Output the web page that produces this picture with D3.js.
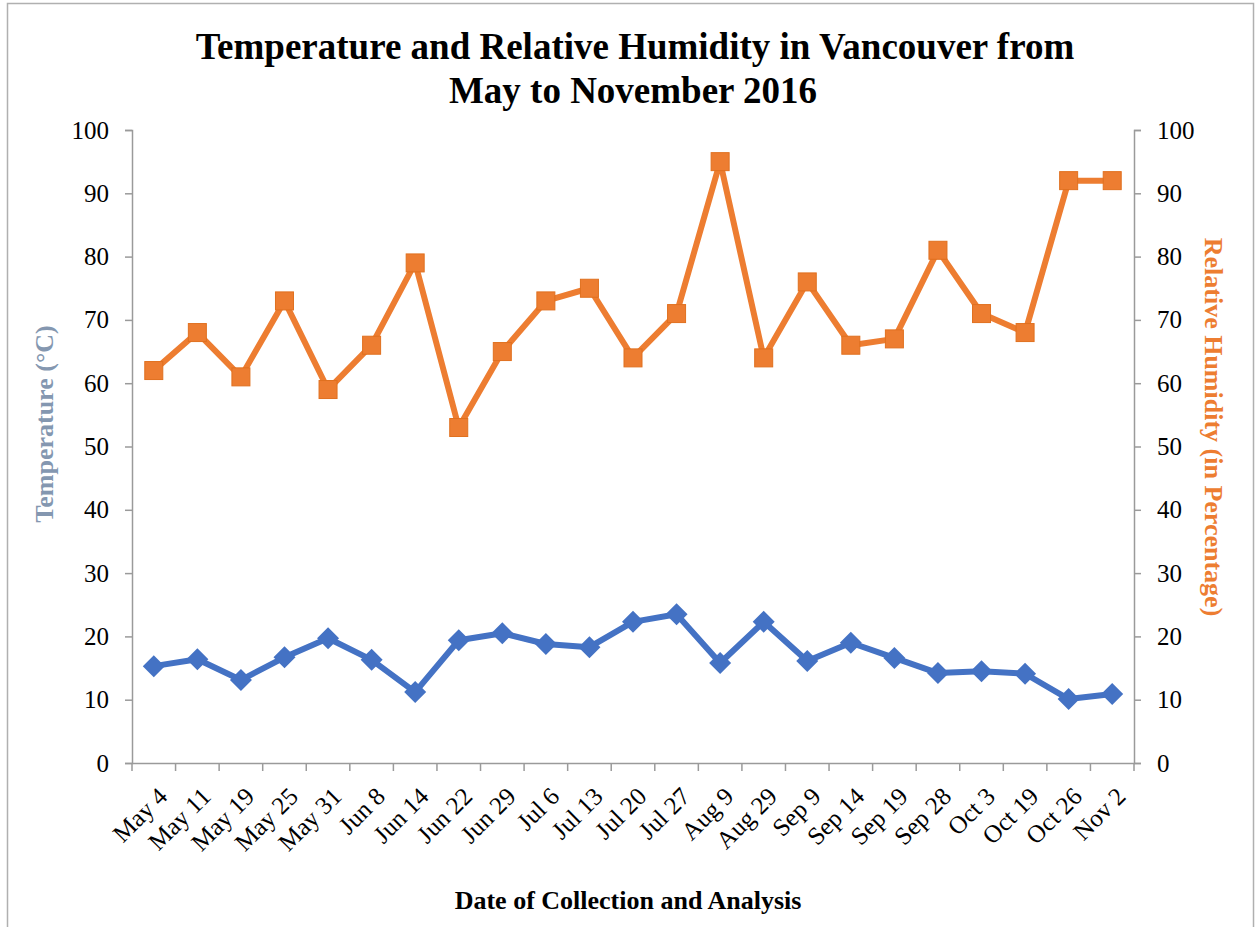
<!DOCTYPE html>
<html>
<head>
<meta charset="utf-8">
<script src="https://cdn.jsdelivr.net/npm/d3@7"></script>
<style>
  body { margin: 0; background: #fff; }
  svg text { font-family: "Liberation Serif", "Times New Roman", serif; }
</style>
</head>
<body>
<div id="wrapper"></div>
<script>
// data
const dates = ["May 4","May 11","May 19","May 25","May 31","Jun 8","Jun 14","Jun 22","Jun 29",
  "Jul 6","Jul 13","Jul 20","Jul 27","Aug 9","Aug 29","Sep 9","Sep 14","Sep 19","Sep 28",
  "Oct 3","Oct 19","Oct 26","Nov 2"];
const temperature = [15.3,16.4,13.1,16.7,19.7,16.3,11.2,19.4,20.5,18.8,18.3,22.3,23.5,15.8,22.3,
  16.1,19.0,16.6,14.2,14.5,14.1,10.1,10.9];
const humidity = [62,68,61,73,59,66,79,53,65,73,75,64,71,95,64,76,66,67,81,71,68,92,92];
const yTicks = [0,10,20,30,40,50,60,70,80,90,100];

const width = 1258, height = 927;
const plotL = 132, plotR = 1134, plotT = 130, plotB = 763;

const svg = d3.select("#wrapper").append("svg")
  .attr("width", width).attr("height", height);

// frame
svg.append("rect")
  .attr("x", 7.5).attr("y", 3.5)
  .attr("width", 1246).attr("height", 940)
  .attr("fill", "none").attr("stroke", "#b0b0b0").attr("stroke-width", 1.5);

const x = d3.scaleBand().domain(dates).range([plotL, plotR]);
const yL = d3.scaleLinear().domain([0, 100]).range([plotB, plotT]);
const yR = d3.scaleLinear().domain([0, 100]).range([plotB, plotT]);

// axes
const axisColor = "#9a9a9a";
const gx = svg.append("g").attr("transform", `translate(0,${plotB})`)
  .call(d3.axisBottom(x).tickSize(0).tickFormat(""));
gx.select(".domain").attr("stroke", axisColor).attr("stroke-width", 1.5);
// category boundary ticks
const bounds = dates.map(d => x(d)).concat([plotR]);
gx.selectAll(".bt").data(bounds).enter().append("line")
  .attr("x1", d => d).attr("x2", d => d).attr("y1", 0).attr("y2", 8)
  .attr("stroke", axisColor).attr("stroke-width", 1.5);
gx.selectAll(".lbl").data(dates).enter().append("text")
  .attr("transform", d => `translate(${x(d) + x.bandwidth() / 2 + 15},${35}) rotate(-45)`)
  .attr("text-anchor", "end")
  .attr("font-size", 25)
  .attr("fill", "#000")
  .text(d => d);

const gl = svg.append("g").attr("transform", `translate(${plotL},0)`)
  .call(d3.axisLeft(yL).tickValues(yTicks).tickSize(7).tickPadding(16));
gl.select(".domain").attr("stroke", axisColor).attr("stroke-width", 1.5);
gl.selectAll(".tick line").attr("stroke", axisColor).attr("stroke-width", 1.5);
gl.selectAll(".tick text").attr("font-size", 25).attr("fill", "#000")
  .style("font-family", "'Liberation Serif', serif");

const gr = svg.append("g").attr("transform", `translate(${plotR},0)`)
  .call(d3.axisRight(yR).tickValues(yTicks).tickSize(7).tickPadding(16));
gr.select(".domain").attr("stroke", axisColor).attr("stroke-width", 1.5);
gr.selectAll(".tick line").attr("stroke", axisColor).attr("stroke-width", 1.5);
gr.selectAll(".tick text").attr("font-size", 25).attr("fill", "#000")
  .style("font-family", "'Liberation Serif', serif");

// series
const cx = d => x(d) + x.bandwidth() / 2;
const blue = "#4472c4", orange = "#ed7d31";

const lineT = d3.line().x((d, i) => cx(dates[i])).y(d => yL(d));
const lineH = d3.line().x((d, i) => cx(dates[i])).y(d => yR(d));

svg.append("path").datum(humidity).attr("d", lineH)
  .attr("fill", "none").attr("stroke", orange).attr("stroke-width", 6)
  .attr("stroke-linejoin", "round");
svg.selectAll(".hm").data(humidity).enter().append("rect")
  .attr("x", (d, i) => cx(dates[i]) - 9).attr("y", d => yR(d) - 9)
  .attr("width", 18).attr("height", 18)
  .attr("fill", orange).attr("stroke", "#e0701f").attr("stroke-width", 1);

svg.append("path").datum(temperature).attr("d", lineT)
  .attr("fill", "none").attr("stroke", blue).attr("stroke-width", 6)
  .attr("stroke-linejoin", "round");
svg.selectAll(".tm").data(temperature).enter().append("path")
  .attr("transform", (d, i) => `translate(${cx(dates[i])},${yL(d)})`)
  .attr("d", "M0,-11L11,0L0,11L-11,0Z")
  .attr("fill", blue);

// titles
svg.append("text").attr("x", 635).attr("y", 59).attr("text-anchor", "middle")
  .attr("font-size", 37).attr("font-weight", "bold").text("Temperature and Relative Humidity in Vancouver from");
svg.append("text").attr("x", 633).attr("y", 103).attr("text-anchor", "middle")
  .attr("font-size", 37).attr("font-weight", "bold").text("May to November 2016");

svg.append("text").attr("x", 628).attr("y", 909).attr("text-anchor", "middle")
  .attr("font-size", 26).attr("font-weight", "bold").text("Date of Collection and Analysis");

svg.append("text")
  .attr("transform", `translate(53,424) rotate(-90)`)
  .attr("text-anchor", "middle").attr("font-size", 26).attr("font-weight", "bold")
  .attr("fill", "#8497b0").text("Temperature (°C)");

svg.append("text")
  .attr("transform", `translate(1205,427) rotate(90)`)
  .attr("text-anchor", "middle").attr("font-size", 26).attr("font-weight", "bold")
  .attr("fill", orange).text("Relative Humidity (in Percentage)");
</script>
</body>
</html>
